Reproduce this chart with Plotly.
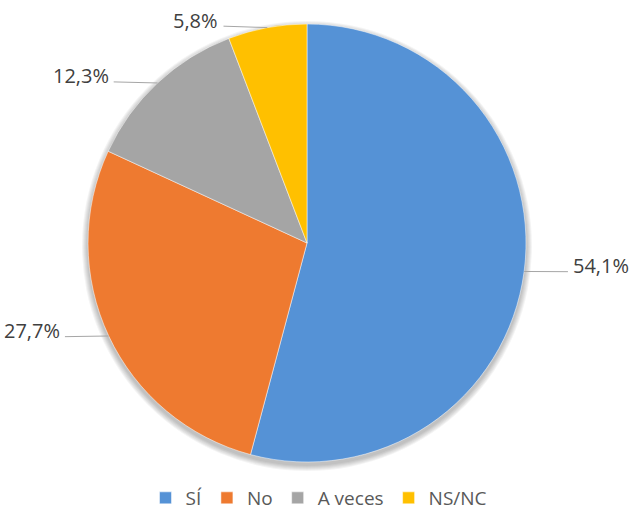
import math
import plotly.graph_objects as go

# Survey answers and their shares (%)
labels = ["SÍ", "No", "A veces", "NS/NC"]
values = [54.1, 27.7, 12.3, 5.8]
value_text = ["54,1%", "27,7%", "12,3%", "5,8%"]
colors = ["#5592D6", "#EE7A30", "#A5A5A5", "#FFC000"]

W, H = 638, 517
# pie placement in pixels
cx, cy, r = 307, 243, 219
dom_x = [(cx - r) / W, (cx + r) / W]
dom_y = [1 - (cy + r) / H, 1 - (cy - r) / H]

fig = go.Figure(go.Pie(
    labels=labels,
    values=values,
    sort=False,
    direction="clockwise",
    rotation=0,
    textinfo="none",
    hoverinfo="label+percent",
    marker=dict(colors=colors, line=dict(color="white", width=0.5)),
    domain=dict(x=dom_x, y=dom_y),
))

shapes, annotations = [], []

# soft drop shadow behind the pie
for k in range(1, 7):
    rr = r + k
    shapes.append(dict(type="circle", xref="paper", yref="paper", layer="below",
                       x0=(cx - rr) / W, x1=(cx + rr) / W,
                       y0=1 - (cy + 3 + rr) / H, y1=1 - (cy + 3 - rr) / H,
                       fillcolor="rgba(0,0,0,0.045)", line=dict(width=0)))

# outside labels with leader lines, placed at each slice's mid-angle
total = sum(values)
cum = 0.0
for v, t in zip(values, value_text):
    mid = (cum + v / 2) / total * 2 * math.pi
    cum += v
    sx, sy = math.sin(mid), -math.cos(mid)
    x0, y0 = cx + r * sx, cy + r * sy
    side = 1 if sx >= 0 else -1
    x1 = x0 + side * 0.2 * r
    y1 = y0 + 1.5 * sy
    shapes.append(dict(type="path", xref="paper", yref="paper",
                       path="M {:.4f},{:.4f} L {:.4f},{:.4f}".format(
                           x0 / W, 1 - y0 / H, x1 / W, 1 - y1 / H),
                       line=dict(color="#A6A6A6", width=1)))
    annotations.append(dict(xref="paper", yref="paper",
                            x=(x1 + side * 3) / W, y=1 - (y1 - 6) / H,
                            text=t, showarrow=False,
                            xanchor="left" if side > 0 else "right",
                            yanchor="middle",
                            font=dict(family="Open Sans, sans-serif", size=20, color="#404040")))

fig.update_layout(
    width=W, height=H,
    margin=dict(l=0, r=0, t=0, b=0, autoexpand=False),
    paper_bgcolor="white",
    font=dict(family="Open Sans, sans-serif"),
    shapes=shapes,
    annotations=annotations,
    legend=dict(orientation="h", x=0.5, xanchor="center", y=0, yanchor="bottom",
                font=dict(size=19, color="#595959"), itemwidth=30,
                traceorder="normal"),
)

fig.write_html("out.html")
